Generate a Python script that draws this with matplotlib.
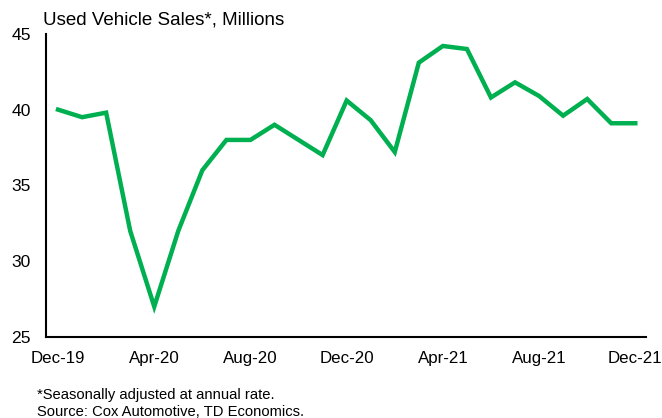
import numpy as np
import matplotlib.pyplot as plt

plt.rcParams['font.family'] = ['Liberation Sans', 'DejaVu Sans']

# Данные: продажи подержанных авто, млн (SAAR)
months = ["Dec-19", "Jan-20", "Feb-20", "Mar-20", "Apr-20", "May-20", "Jun-20",
          "Jul-20", "Aug-20", "Sep-20", "Oct-20", "Nov-20", "Dec-20", "Jan-21",
          "Feb-21", "Mar-21", "Apr-21", "May-21", "Jun-21", "Jul-21", "Aug-21",
          "Sep-21", "Oct-21", "Nov-21", "Dec-21"]
sales = [40.0, 39.5, 39.8, 32.0, 27.0, 32.0, 36.0, 38.0, 38.0, 39.0, 38.0, 37.0,
         40.6, 39.3, 37.2, 43.1, 44.2, 44.0, 40.8, 41.8, 40.9, 39.6, 40.7, 39.1, 39.1]
tick_labels = ["Dec-19", "Apr-20", "Aug-20", "Dec-20", "Apr-21", "Aug-21", "Dec-21"]
y_ticks = [25, 30, 35, 40, 45]

x = np.arange(len(months))

fig = plt.figure(figsize=(6.62, 4.18), dpi=100)
ax = fig.add_axes([0.0695, 0.194, 0.9065, 0.725])

ax.plot(x, sales, color="#00B050", linewidth=3.2, solid_joinstyle="miter")

ax.set_xlim(-0.5, 24.45)
ax.set_ylim(25, 45)
ax.set_yticks(y_ticks)
ax.set_xticks([months.index(m) for m in tick_labels])
ax.set_xticklabels(tick_labels)
ax.tick_params(axis="both", length=0, labelsize=12.6)
ax.tick_params(axis="x", labelsize=12.2, pad=10)
ax.tick_params(axis="y", pad=11)

for s in ["top", "right"]:
    ax.spines[s].set_visible(False)
for s in ["left", "bottom"]:
    ax.spines[s].set_linewidth(1.5)
    ax.spines[s].set_color("black")

fig.text(43 / 662, 1 - 20 / 418, "Used Vehicle Sales*, Millions", fontsize=13.5,
         ha="left", va="center")
fig.text(37 / 662, 1 - 395 / 418, "*Seasonally adjusted at annual rate.", fontsize=10.6,
         ha="left", va="center")
fig.text(37 / 662, 1 - 412 / 418, "Source: Cox Automotive, TD Economics.", fontsize=10.6,
         ha="left", va="center")

plt.savefig("out.png", dpi=100)
